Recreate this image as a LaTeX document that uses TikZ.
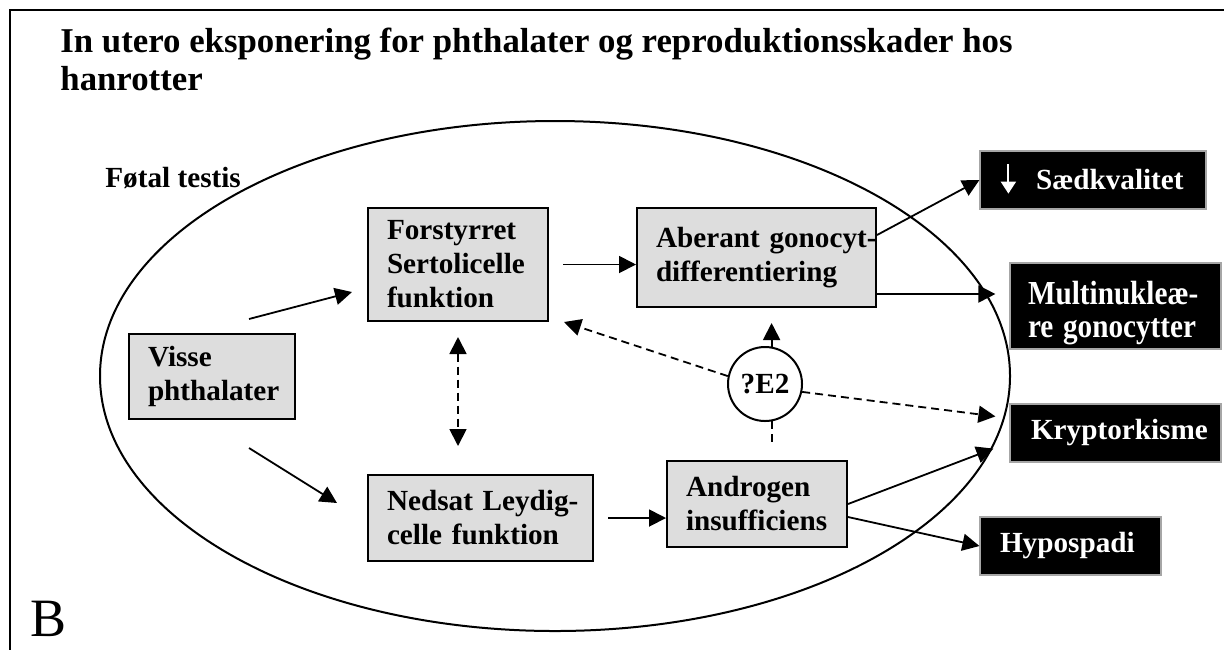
\documentclass[tikz,border=0pt]{standalone}
\usepackage{fontspec}
\setmainfont{Liberation Serif}
\usetikzlibrary{arrows.meta,shapes.geometric,calc}
\definecolor{boxgray}{RGB}{221,221,221}
\hyphenpenalty=10000
\exhyphenpenalty=10000
\begin{document}
\begin{tikzpicture}[x=0.5pt,y=-0.5pt,
 bodyf/.style={font=\fontsize{14.6}{17}\selectfont\bfseries},
 graybox/.style={draw, line width=1pt, fill=boxgray, bodyf, align=left, inner sep=0pt, anchor=center},
 blackbox/.style={draw=gray!70, line width=0.6pt, fill=black, text=white, bodyf, align=left, inner sep=0pt},
 tip/.style={-{Triangle[length=8.5pt,width=8.5pt]}},
 arr/.style={line width=0.9pt, tip},
 darr/.style={arr, dash pattern=on 4pt off 2.5pt},
 ddarr/.style={line width=0.9pt, dash pattern=on 4pt off 2.5pt, {Triangle[length=8.5pt,width=8.5pt]}-{Triangle[length=8.5pt,width=8.5pt]}},
 dline/.style={line width=0.9pt, dash pattern=on 4pt off 2.5pt},
]
\useasboundingbox (0,0) rectangle (1224,650);
\draw[line width=0.9pt] (1224,10) -- (10,10) -- (10,650);
\node[anchor=base west, inner sep=0pt, align=left, font=\fontsize{17.4}{19}\selectfont\bfseries] (title) at (60,90) {In utero eksponering for phthalater og reproduktionsskader hos\\hanrotter};

\node[ellipse, draw, line width=1pt, minimum width=455pt, minimum height=255pt, inner sep=0pt] (testis) at (555,376) {};
\node[anchor=base west, inner sep=0pt, bodyf] (lbl) at (105,187) {Føtal testis};

\node[graybox, minimum width=83pt, minimum height=42.5pt, text width=64pt] (vis) at (212,376.5) {Visse\\phthalater};
\node[graybox, minimum width=90pt, minimum height=56.5pt, text width=71pt] (for) at (458,264.5) {Forstyrret\\Sertolicelle\\funktion};
\node[graybox, minimum width=119.5pt, minimum height=49.5pt, text width=100.5pt] (abe) at (756.5,257.5) {Aberant~gonocyt-\\differentiering};
\node[graybox, minimum width=112.5pt, minimum height=43pt, text width=93.5pt] (ned) at (480.5,518) {Nedsat~Leydig-\\celle~funktion};
\node[graybox, minimum width=90pt, minimum height=43pt, text width=71pt] (and) at (757,504) {Androgen\\insufficiens};

\node[blackbox, minimum width=113pt, minimum height=29pt, text width=92pt] (sk) at (1093,180) {\hspace*{17.5pt}Sædkvalitet};
\node[blackbox, minimum width=105.5pt, minimum height=43pt, text width=87.5pt] (mul) at (1115.5,306) {\scalebox{1}[1.15]{\vbox{\kern6pt\baselineskip=14.5pt\lineskiplimit=-20pt\hbox{Multinukleæ-}\hbox{re gonocytter}}}};
\node[blackbox, minimum width=105.5pt, minimum height=29pt, text width=84.5pt] (kry) at (1115.5,433) {\mbox{Kryptorkisme}};
\node[blackbox, minimum width=90.5pt, minimum height=29pt, text width=70.5pt] (hyp) at (1070.5,546) {Hypospadi};

\node[circle, draw, line width=1pt, fill=white, minimum size=37pt, inner sep=0pt, bodyf] (e2) at (765,384) {?E2};

\draw[white, line width=1pt, -{Triangle[length=6pt,width=7.5pt]}] ([xshift=14.5pt,yshift=-7pt]sk.north west) -- ([xshift=14.5pt,yshift=8pt]sk.south west);

\coordinate (v1) at ([xshift=-23.5pt,yshift=7pt]vis.north east);
\coordinate (f1) at ([xshift=-7.5pt,yshift=15pt]for.south west);
\draw[arr] (v1) -- (f1);
\coordinate (v2) at ([xshift=-23.5pt,yshift=-14pt]vis.south east);
\coordinate (n1) at ([xshift=-15pt,yshift=7.5pt]ned.west);
\draw[arr] (v2) -- (n1);
\draw[arr, shorten <=7pt] (for.east) -- (for.east -| abe.west);
\draw[arr, shorten <=7pt] (ned.east) -- (ned.east -| and.west);
\draw[arr] ([yshift=-14pt]abe.north east) -- (sk.west);
\draw[arr, shorten >=7pt] ([yshift=7pt]abe.south east) -- ([yshift=7pt]abe.south east -| mul.west);
\draw[arr] (and.east) -- ([xshift=-8pt,yshift=7pt]kry.south west);
\draw[arr] ([yshift=-6.5pt]and.east) -- (hyp.west);
\draw[darr] (e2.168) -- ([xshift=7.5pt]for.south east);
\draw[darr] (e2.-12) -- ([xshift=-7pt,yshift=-6.5pt]kry.north west);
\draw[arr, shorten >=7.5pt] (e2.80) -- (e2.80 |- abe.south);
\draw[dline, shorten >=7pt] (e2.-80) -- (e2.-80 |- and.north);
\draw[ddarr, shorten <=7.5pt, shorten >=14pt] (for.south) -- (for.south |- ned.north);

\node[anchor=base west, inner sep=0pt, font=\fontsize{27}{30}\selectfont] (B) at (30,636) {B};
\end{tikzpicture}
\end{document}
